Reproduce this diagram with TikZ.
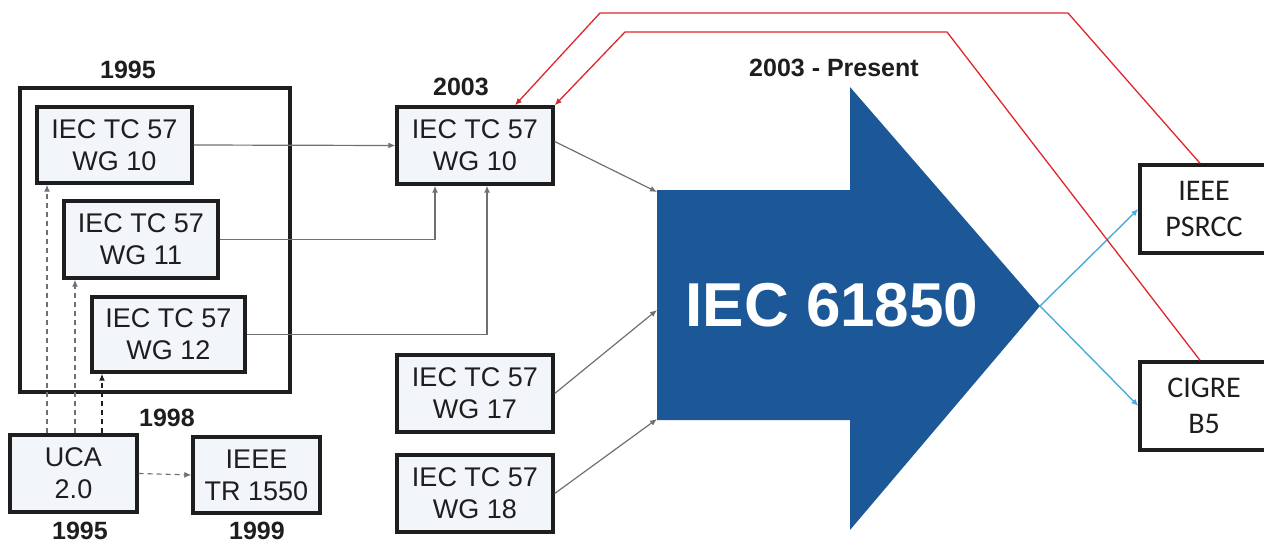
\documentclass[tikz,border=0pt]{standalone}
\usepackage{fontspec}
\setmainfont{Liberation Sans}
\newfontfamily\calfont{Carlito}
\usetikzlibrary{arrows.meta}
\definecolor{boxfill}{HTML}{F2F5FA}
\definecolor{txt}{HTML}{1E1E1E}
\definecolor{bigblue}{HTML}{1C5897}
\definecolor{lineblue}{HTML}{4BABD9}
\definecolor{redline}{HTML}{E0262A}
\definecolor{conn}{HTML}{6E7076}
\tikzset{
  wg/.style={draw=txt, line width=3.4pt, fill=boxfill, text=txt, align=center,
    font=\fontsize{27}{32}\selectfont, inner sep=0pt},
  orgbox/.style={draw=txt, line width=3.4pt, fill=white, text=txt, align=center,
    font=\calfont\fontsize{30}{36}\selectfont, inner sep=0pt,
    minimum width=128pt, minimum height=88pt},
  yearlbl/.style={text=txt, font=\bfseries\fontsize{25}{28}\selectfont, inner sep=0pt},
  tip/.style={-{Latex[length=7pt,width=6pt]}},
  gconn/.style={tip, draw=conn, line width=1.2pt},
  dconn/.style={tip, draw=conn, line width=1.2pt, dash pattern=on 5pt off 4pt},
  rconn/.style={tip, draw=redline, line width=1.3pt},
  bconn/.style={tip, draw=lineblue, line width=1.4pt},
}
\begin{document}
\begin{tikzpicture}[x=1pt,y=-1pt]
\useasboundingbox (0,0) rectangle (1264,544);
% outer 1995 frame
\draw[draw=txt, line width=3.4pt] (20,88) rectangle (290,392);
\node[yearlbl] (y1995a) at (128,70) {1995};
% boxes
\node[wg, minimum width=155pt, minimum height=76pt] (wg10a) at (114.5,145) {IEC TC 57\\WG 10};
\node[wg, minimum width=154pt, minimum height=77pt] (wg11) at (141,239.5) {IEC TC 57\\WG 11};
\node[wg, minimum width=153pt, minimum height=75pt] (wg12) at (168.5,334.5) {IEC TC 57\\WG 12};
\node[wg, minimum width=127pt, minimum height=77pt] (uca) at (73.5,473.5) {UCA\\2.0};
\node[wg, minimum width=127pt, minimum height=76pt] (tr) at (256.5,475) {IEEE\\TR 1550};
\node[wg, minimum width=156pt, minimum height=77pt] (wg10b) at (475,145.5) {IEC TC 57\\WG 10};
\node[wg, minimum width=156pt, minimum height=77pt] (wg17) at (475,393.5) {IEC TC 57\\WG 17};
\node[wg, minimum width=156pt, minimum height=77pt] (wg18) at (475,493.5) {IEC TC 57\\WG 18};
\node[orgbox] (psrcc) at (1204,209) {IEEE\\PSRCC};
\node[orgbox] (cigre) at (1204,406) {CIGRE\\B5};
% year labels
\node[yearlbl] (y2003) at (461,87) {2003};
\node[yearlbl] (ypres) at (834,68) {2003 - Present};
\node[yearlbl] (y1998) at (167,418) {1998};
\node[yearlbl] (y1995b) at (80,531) {1995};
\node[yearlbl] (y1999) at (257,531) {1999};
% big arrow
\coordinate (a1) at (657,190);
\coordinate (a2) at (850,190);
\coordinate (a3) at (850,87);
\coordinate (atip) at (1040,306);
\coordinate (a5) at (850,530);
\coordinate (a6) at (850,420);
\coordinate (a7) at (657,420);
\fill[bigblue] (a1) -- (a2) -- (a3) -- (atip) -- (a5) -- (a6) -- (a7) -- cycle;
\node[text=white, font=\bfseries\fontsize{62}{70}\selectfont, inner sep=0pt] (iec) at (832,305) {IEC 61850};
% arrow targets
\coordinate (t1) at (657,192);
\coordinate (t2) at (657,310);
\coordinate (t3) at (657,419);
% connectors
\draw[gconn] (wg10a.east) -- (wg10b.west);
\draw[gconn] (wg11.east) -| ([xshift=-40pt]wg10b.south);
\draw[gconn] (wg12.east) -| ([xshift=12pt]wg10b.south);
\draw[gconn] ([yshift=4pt]wg10b.east) -- (t1);
\draw[gconn] (wg17.east) -- (t2);
\draw[gconn] (wg18.east) -- (t3);
% dashed from UCA
\draw[dconn] ([xshift=-26.5pt]uca.north) -- ([xshift=-26.5pt]uca.north |- wg10a.south);
\draw[dconn] ([xshift=1.5pt]uca.north) -- ([xshift=1.5pt]uca.north |- wg11.south);
\draw[dconn, draw=txt] ([xshift=28.5pt]uca.north) -- ([xshift=28.5pt]uca.north |- wg12.south);
\draw[dconn] (uca.east) -- (tr.west);
% blue
\draw[bconn] (atip) -- (psrcc.west);
\draw[bconn] (atip) -- (cigre.west);
% red
\coordinate (r1a) at (1068,13);
\coordinate (r1b) at (600,13);
\coordinate (r2a) at (947,32);
\coordinate (r2b) at (625,32);
\draw[rconn] ([xshift=-4pt]psrcc.north) -- (r1a) -- (r1b) -- ([xshift=40pt]wg10b.north);
\draw[rconn] ([xshift=-4pt]cigre.north) -- (r2a) -- (r2b) -- (wg10b.north east);
\end{tikzpicture}
\end{document}
